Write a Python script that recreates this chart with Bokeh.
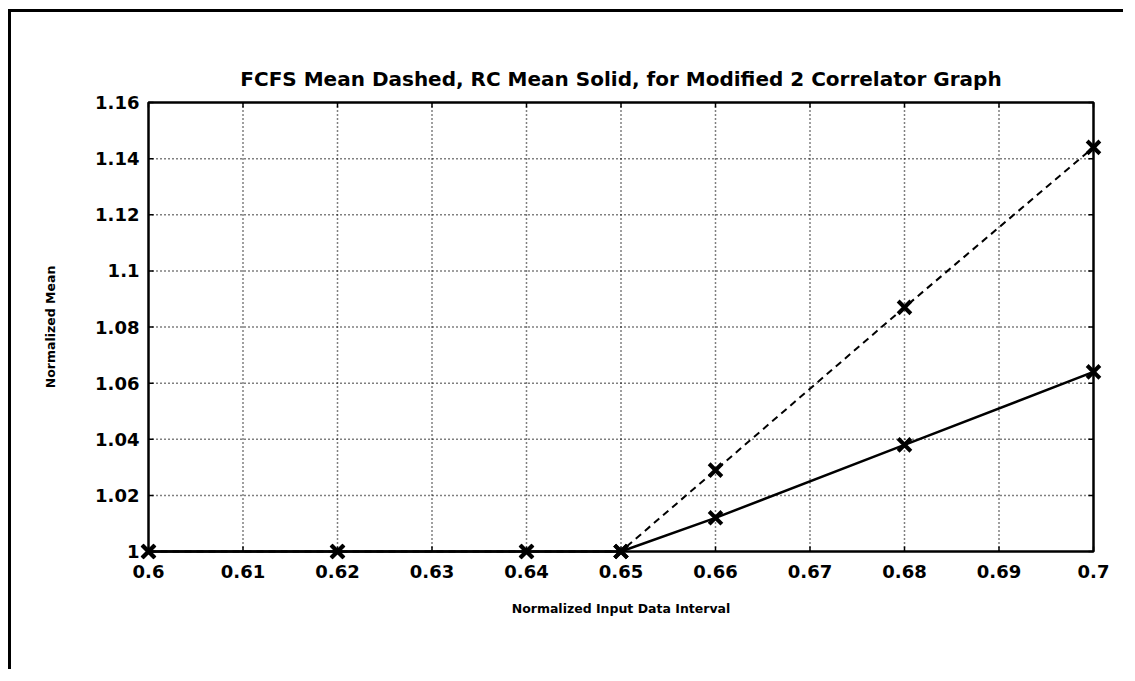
from bokeh.plotting import figure
from bokeh.models import FixedTicker, Range1d
from bokeh.embed import file_html
from bokeh.resources import INLINE

x_vals = [0.60, 0.62, 0.64, 0.65, 0.66, 0.68, 0.70]
fcfs_mean = [1.0, 1.0, 1.0, 1.0, 1.029, 1.087, 1.144]
rc_mean = [1.0, 1.0, 1.0, 1.0, 1.012, 1.038, 1.064]

x_ticks = [0.60, 0.61, 0.62, 0.63, 0.64, 0.65, 0.66, 0.67, 0.68, 0.69, 0.70]
x_tick_labels = ["0.6", "0.61", "0.62", "0.63", "0.64", "0.65", "0.66", "0.67", "0.68", "0.69", "0.7"]
y_ticks = [1.00, 1.02, 1.04, 1.06, 1.08, 1.10, 1.12, 1.14, 1.16]
y_tick_labels = ["1", "1.02", "1.04", "1.06", "1.08", "1.1", "1.12", "1.14", "1.16"]

title_text = "FCFS Mean Dashed, RC Mean Solid, for Modified 2 Correlator Graph"
FONT = "DejaVu Sans"

# axes box spans the first..last tick; a small unclipped margin lets markers straddle the box
x0, x1 = x_ticks[0], x_ticks[-1]
y0, y1 = y_ticks[0], y_ticks[-1]
PAD = 14  # px
inner_w, inner_h = 945, 449
dx = (x1 - x0) * PAD / inner_w
dy = (y1 - y0) * PAD / inner_h

p = figure(width=1115, height=660, output_backend="svg", toolbar_location=None,
           x_range=Range1d(x0 - dx, x1 + dx), y_range=Range1d(y0 - dy, y1 + dy),
           min_border_left=123, min_border_right=19, min_border_top=76, min_border_bottom=107,
           title=title_text)

p.styles = {"border-top": "3px solid black", "border-left": "3px solid black",
            "margin-left": "8px", "margin-top": "9px"}

p.title.align = "center"
p.title.text_font = FONT
p.title.text_font_size = "20px"
p.title.text_font_style = "bold"
p.title.text_color = "black"
p.title.offset = 0
p.title.standoff = -5

p.outline_line_color = None
p.background_fill_color = "white"
p.border_fill_color = "white"
p.xgrid.visible = False
p.ygrid.visible = False

for ax in (p.xaxis, p.yaxis):
    ax.axis_line_color = None
    ax.major_tick_line_color = None
    ax.minor_tick_line_color = None
    ax.major_label_text_font = FONT
    ax.major_label_text_font_size = "18px"
    ax.major_label_text_font_style = "bold"
    ax.major_label_text_color = "black"
    ax.axis_label_text_font = FONT
    ax.axis_label_text_font_style = "bold"
    ax.axis_label_text_color = "black"

p.xaxis.ticker = FixedTicker(ticks=x_ticks)
p.xaxis.major_label_overrides = dict(zip(x_ticks, x_tick_labels))
p.yaxis.ticker = FixedTicker(ticks=y_ticks)
p.yaxis.major_label_overrides = dict(zip(y_ticks, y_tick_labels))
p.xaxis.major_label_standoff = -7
p.yaxis.major_label_standoff = -11

p.xaxis.axis_label = "Normalized Input Data Interval"
p.xaxis.axis_label_text_font_size = "12.5px"
p.xaxis.axis_label_standoff = 20
p.yaxis.axis_label = "Normalized Mean"
p.yaxis.axis_label_text_font_size = "12.5px"
p.yaxis.axis_label_standoff = 34

# dotted grid inside the box
gx = x_ticks[1:-1]
p.segment(x0=gx, y0=[y0] * len(gx), x1=gx, y1=[y1] * len(gx),
          line_color="black", line_width=1.5, line_dash="1 3")
gy = y_ticks[1:-1]
p.segment(x0=[x0] * len(gy), y0=gy, x1=[x1] * len(gy), y1=gy,
          line_color="black", line_width=1.5, line_dash="1 3")

# small inward tick marks on all four sides
tick_len_x = (x1 - x0) * 5 / inner_w
tick_len_y = (y1 - y0) * 5 / inner_h
p.segment(x0=x_ticks, y0=[y0] * len(x_ticks), x1=x_ticks, y1=[y0 + tick_len_y] * len(x_ticks),
          line_color="black", line_width=1.5)
p.segment(x0=x_ticks, y0=[y1] * len(x_ticks), x1=x_ticks, y1=[y1 - tick_len_y] * len(x_ticks),
          line_color="black", line_width=1.5)
p.segment(x0=[x0] * len(y_ticks), y0=y_ticks, x1=[x0 + tick_len_x] * len(y_ticks), y1=y_ticks,
          line_color="black", line_width=1.5)
p.segment(x0=[x1] * len(y_ticks), y0=y_ticks, x1=[x1 - tick_len_x] * len(y_ticks), y1=y_ticks,
          line_color="black", line_width=1.5)

# axes box
p.line([x0, x1, x1, x0, x0], [y0, y0, y1, y1, y0], line_color="black", line_width=2.5)

p.line(x_vals, fcfs_mean, line_color="black", line_width=2, line_dash="7 5")
p.line(x_vals, rc_mean, line_color="black", line_width=2.5)
p.scatter(x_vals, fcfs_mean, marker="x", size=18, line_color="black", line_width=4)
p.scatter(x_vals, rc_mean, marker="x", size=18, line_color="black", line_width=4)

open("out.html", "w").write(file_html(p, INLINE))
